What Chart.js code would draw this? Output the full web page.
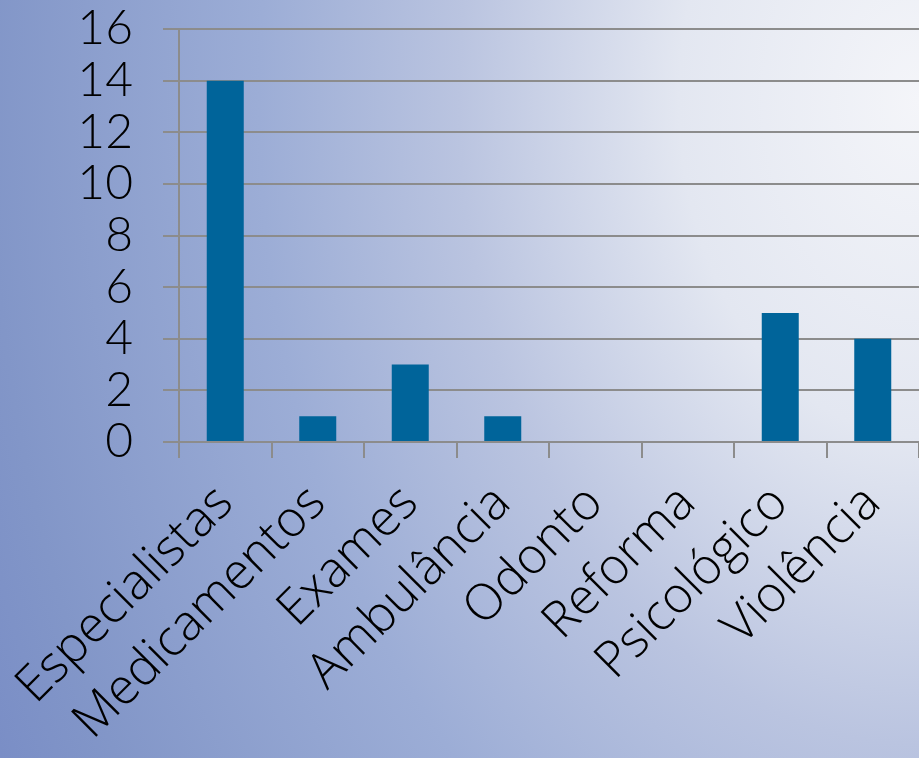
<!DOCTYPE html>
<html>
<head>
<meta charset="utf-8">
<script src="https://cdn.jsdelivr.net/npm/chart.js@4/dist/chart.umd.min.js"></script>
<style>
  html, body { margin: 0; padding: 0; }
  body {
    width: 919px; height: 758px; overflow: hidden;
    background: radial-gradient(ellipse 1000px 1400px at 919px 100px, #f4f5f9 0%, #e3e7f1 24%, #bac4e0 46%, #9cadd6 66%, #8296c8 93%, #7a8ec6 103%);
  }
  #wrap { position: absolute; left: 0; top: 0; width: 919px; height: 758px; }
</style>
</head>
<body>
<div id="wrap"><canvas id="c" width="919" height="758"></canvas></div>
<script>
const categories = ["Especialistas", "Medicamentos", "Exames", "Ambulância", "Odonto", "Reforma", "Psicológico", "Violência"];
const values = [14, 1, 3, 1, 0, 0, 5, 4];
const yTicks = [0, 2, 4, 6, 8, 10, 12, 14, 16];

const XFONT = "'Open Sans', 'DejaVu Sans', sans-serif";
const YFONT = "Lato, 'DejaVu Sans', sans-serif";
const GRID = '#8c8c8c';

new Chart(document.getElementById('c'), {
  type: 'bar',
  data: {
    labels: categories,
    datasets: [{
      data: values,
      backgroundColor: '#00649a',
      borderWidth: 0,
      barPercentage: 0.4,
      categoryPercentage: 1.0
    }]
  },
  options: {
    responsive: false,
    animation: false,
    devicePixelRatio: 1,
    layout: { padding: { top: 29, right: 0, left: 0, bottom: 0 } },
    plugins: { legend: { display: false }, tooltip: { enabled: false } },
    scales: {
      x: {
        offset: true,
        grid: {
          offset: true,
          drawOnChartArea: false,
          drawTicks: true,
          tickLength: 16,
          color: GRID,
          lineWidth: 2
        },
        border: { display: true, color: GRID, width: 2 },
        ticks: {
          minRotation: 45,
          maxRotation: 45,
          autoSkip: false,
          padding: 16,
          color: '#000',
          font: { family: XFONT, size: 50, weight: 300 }
        },
        afterFit: (s) => { s.height = 316; s.paddingLeft = 0; s.paddingRight = 0; }
      },
      y: {
        min: 0,
        max: 16,
        afterBuildTicks: (s) => { s.ticks = yTicks.map(v => ({ value: v })); },
        grid: {
          color: GRID,
          lineWidth: 2,
          tickLength: 16,
          drawTicks: true
        },
        border: { display: true, color: GRID, width: 2 },
        ticks: {
          autoSkip: false,
          padding: 30,
          color: '#000',
          font: { family: YFONT, size: 48, weight: 300 }
        },
        afterFit: (s) => { s.width = 179; s.paddingTop = 0; s.paddingBottom = 0; }
      }
    }
  }
});
</script>
</body>
</html>
